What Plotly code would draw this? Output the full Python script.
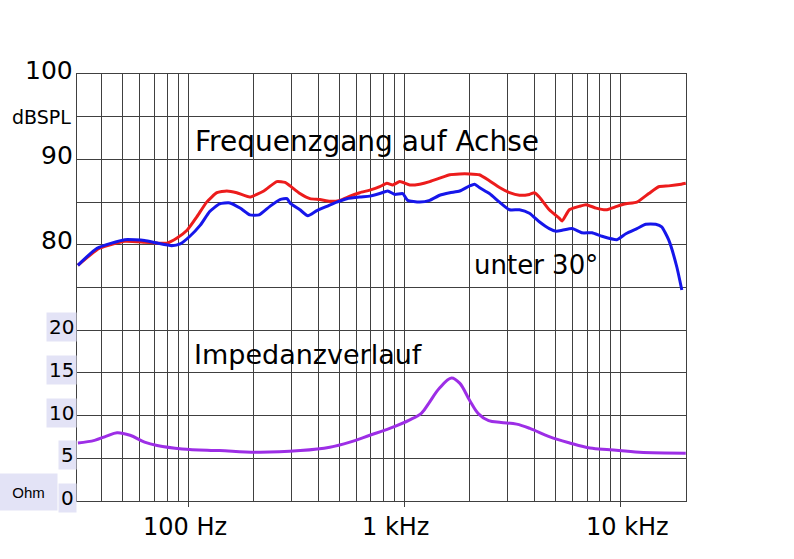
import plotly.graph_objects as go
import math

# ---------------- data ----------------
red_f = [31, 39, 51, 63, 72, 80, 89, 99, 110, 122, 136, 151, 168, 193, 224, 257, 281, 296, 329, 366,
         407, 452, 503, 560, 622, 692, 769, 829, 883, 952, 1059, 1177, 1309, 1455, 1620, 1800, 2000, 2220,
         2470, 2750, 3060, 3400, 3780, 3990, 4200, 4670, 5200, 5360, 5780, 6420, 6910, 7680, 8540, 9580,
         10550, 11860, 13460, 14960, 16620, 19020, 19950]
red_db = [77.6, 79.6, 80.4, 80.3, 80.2, 80.2, 80.8, 81.7, 83.3, 85.0, 86.1, 86.3, 86.1, 85.6, 86.3, 87.4,
          87.3, 86.9, 86.0, 85.4, 85.3, 85.1, 85.2, 85.7, 86.1, 86.4, 86.8, 87.2, 87.0, 87.4, 87.0, 87.1,
          87.4, 87.8, 88.2, 88.3, 88.3, 88.2, 87.5, 86.7, 86.1, 85.8, 85.9, 86.1, 85.6, 84.1, 83.1, 82.8,
          84.1, 84.5, 84.7, 84.3, 84.1, 84.5, 84.8, 85.0, 86.0, 86.8, 86.9, 87.1, 87.2]

blue_f = [31, 38, 51, 63, 72, 84, 92, 102, 114, 126, 140, 156, 174, 193, 213, 239, 266, 287, 296, 329,
          358, 394, 438, 487, 542, 622, 692, 769, 837, 902, 983, 1035, 1177, 1309, 1455, 1620, 1800, 2000,
          2110, 2220, 2470, 2750, 3060, 3400, 3780, 4200, 4670, 5030, 5360, 5960, 6630, 7360, 8180, 9580,
          10550, 11860, 13040, 14490, 15440, 16620, 18140, 19130]
blue_db = [77.6, 79.6, 80.6, 80.5, 80.2, 79.9, 80.1, 81.0, 82.3, 83.9, 84.8, 84.9, 84.3, 83.5, 83.5, 84.5,
           85.3, 85.4, 84.9, 84.1, 83.4, 84.0, 84.5, 85.0, 85.4, 85.6, 85.7, 86.0, 86.3, 85.9, 86.0, 85.2,
           85.0, 85.2, 85.8, 86.1, 86.3, 86.9, 87.1, 86.7, 86.0, 85.0, 84.1, 84.1, 83.7, 82.7, 81.9, 81.6,
           81.7, 81.9, 81.4, 81.4, 81.0, 80.6, 81.3, 81.9, 82.4, 82.4, 82.1, 80.6, 77.4, 74.7]

imp_f = [31, 37, 42, 47, 54, 63, 72, 94, 140, 215, 330, 452, 560, 692, 855, 1059, 1200, 1300, 1450, 1650,
         1800, 2000, 2200, 2450, 2800, 3300, 3800, 4700, 5800, 7200, 8900, 12200, 19950]
imp_ohm = [6.8, 7.1, 7.6, 8.0, 7.7, 6.9, 6.5, 6.1, 5.9, 5.7, 5.9, 6.3, 6.9, 7.7, 8.5, 9.5, 10.3, 11.5, 13.2,
           14.4, 13.8, 11.8, 10.2, 9.4, 9.2, 9.0, 8.5, 7.5, 6.8, 6.2, 6.0, 5.7, 5.6]

db_tick_vals = [80, 90, 100]
db_tick_text = ["80", "90", "100"]
ohm_tick_vals = [0, 5, 10, 15, 20]
ohm_tick_text = ["0", "5", "10", "15", "20"]
x_label_text = ["100 Hz", "1 kHz", "10 kHz"]
x_major = [100, 1000, 10000]
x_minor = [40, 50, 60, 70, 80, 90, 200, 300, 400, 500, 600, 700, 800, 900,
           2000, 3000, 4000, 5000, 6000, 7000, 8000, 9000]

# ---------------- layout geometry ----------------
W, H = 794, 559
L, R, T, B = 77, 686, 74, 501
PW, PH = R - L, B - T


def px(xp):
    return (xp - L) / PW


def py(yp):
    return (B - yp) / PH


GRID = "#404040"
LAV = "#e3e3f6"
FONT = "DejaVu Sans"

fig = go.Figure()
fig.add_trace(go.Scatter(x=red_f, y=red_db, mode="lines",
                         line=dict(color="#ec1c1c", width=3, shape="spline", smoothing=0.5),
                         showlegend=False, yaxis="y"))
fig.add_trace(go.Scatter(x=blue_f, y=blue_db, mode="lines",
                         line=dict(color="#1616ea", width=3, shape="spline", smoothing=0.5),
                         showlegend=False, yaxis="y"))
fig.add_trace(go.Scatter(x=imp_f, y=imp_ohm, mode="lines",
                         line=dict(color="#9d2ee6", width=3, shape="spline"),
                         showlegend=False, yaxis="y2"))

fig.update_layout(
    width=W, height=H,
    margin=dict(l=L, r=W - R, t=T, b=H - B, pad=0),
    paper_bgcolor="white", plot_bgcolor="white",
    xaxis=dict(type="log", range=[math.log10(30.7), math.log10(20000)],
               tickvals=x_major, ticktext=["", "", ""], ticks="outside", ticklen=5, tickcolor=GRID,
               showgrid=True, gridcolor=GRID, gridwidth=1,
               minor=dict(tickvals=x_minor, showgrid=True, gridcolor=GRID, gridwidth=1, ticks=""),
               showline=True, linecolor=GRID, linewidth=1, mirror=True, zeroline=False),
    yaxis=dict(range=[50, 100], tickvals=list(range(50, 101, 5)), showticklabels=False,
               showgrid=True, gridcolor=GRID, gridwidth=1, ticks="",
               showline=True, linecolor=GRID, linewidth=1, mirror=True, zeroline=False),
    yaxis2=dict(range=[0, 50], overlaying="y", showgrid=False, showticklabels=False,
                zeroline=False, showline=False),
    font=dict(family=FONT, color="black"),
)

ann = []
# dB labels
for v, t in zip(db_tick_vals, db_tick_text):
    ann.append(dict(x=px(75), y=v, xref="paper", yref="y", text=t, showarrow=False,
                    xanchor="right", yanchor="middle", yshift=4, font=dict(size=25, family=FONT)))
ann.append(dict(x=px(73), y=95, xref="paper", yref="y", text="dBSPL", showarrow=False,
                xanchor="right", yanchor="middle", font=dict(size=19, family=FONT)))
# Ohm labels
for v, t in zip(ohm_tick_vals, ohm_tick_text):
    ann.append(dict(x=px(77), y=v, xref="paper", yref="y2", text=t, showarrow=False,
                    xanchor="right", yanchor="middle", yshift=3, bgcolor=LAV, borderpad=2,
                    font=dict(size=20, family=FONT)))
ann.append(dict(x=px(28.5), y=py(491.5), xref="paper", yref="paper", text="Ohm", showarrow=False,
                xanchor="center", yanchor="middle", width=55, height=34, bgcolor=LAV,
                font=dict(size=15, family="Liberation Sans")))
# x labels
for xc, t in zip([184.5, 395.5, 627], x_label_text):
    ann.append(dict(x=px(xc), y=py(527), xref="paper", yref="paper", text=t, showarrow=False,
                    xanchor="center", yanchor="middle", font=dict(size=24, family=FONT)))
# curve captions
ann.append(dict(x=px(193), y=py(141), xref="paper", yref="paper", text="Frequenzgang auf Achse",
                showarrow=False, xanchor="left", yanchor="middle", font=dict(size=28, family=FONT)))
ann.append(dict(x=px(472), y=py(265), xref="paper", yref="paper", text="unter 30°",
                showarrow=False, xanchor="left", yanchor="middle", font=dict(size=26, family=FONT)))
ann.append(dict(x=px(192), y=py(354), xref="paper", yref="paper", text="Impedanzverlauf",
                showarrow=False, xanchor="left", yanchor="middle", font=dict(size=27, family=FONT)))
fig.update_layout(annotations=ann)

fig.write_html("out.html")
